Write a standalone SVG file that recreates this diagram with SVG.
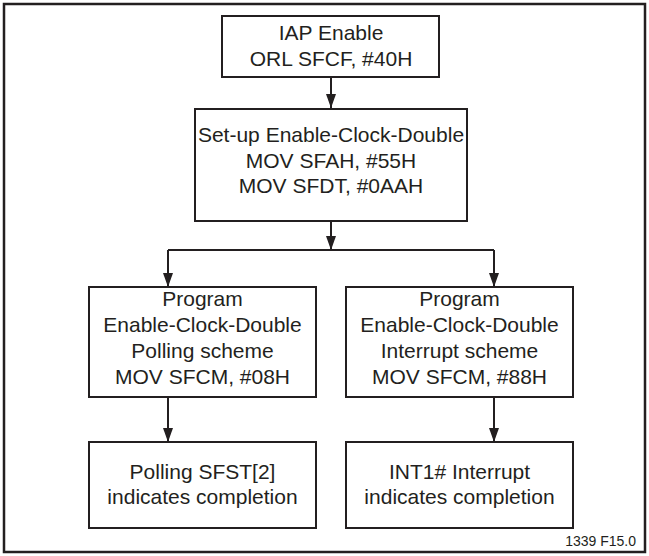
<svg xmlns="http://www.w3.org/2000/svg" width="649" height="556" viewBox="0 0 649 556">
<defs>
<marker id="ah" markerUnits="userSpaceOnUse" markerWidth="14" markerHeight="10" viewBox="0 0 14 10" refX="14" refY="5" orient="auto">
<path d="M0,0 L14,5 L0,10 Z" fill="#231f20"/>
</marker>
<style>
.box{fill:#fff;stroke:#231f20;stroke-width:2}
.t{font-family:"Liberation Sans",Arial,Helvetica,sans-serif;font-size:21px;fill:#231f20;text-anchor:middle}
.c{fill:none;stroke:#231f20;stroke-width:2}
.lab{font-family:"Liberation Sans",Arial,Helvetica,sans-serif;font-size:14px;fill:#231f20;text-anchor:end}
</style>
</defs>
<rect x="0" y="0" width="649" height="556" fill="#fff"/>
<rect x="4" y="4" width="641" height="548" fill="none" stroke="#231f20" stroke-width="2.5"/>
<g id="connectors">
<path class="c" d="M331,77 V108" marker-end="url(#ah)"/>
<path class="c" d="M331,221 V250" marker-end="url(#ah)"/>
<path class="c" d="M168,250 H494"/>
<path class="c" d="M168,250 V287" marker-end="url(#ah)"/>
<path class="c" d="M494,250 V287" marker-end="url(#ah)"/>
<path class="c" d="M168,397 V442" marker-end="url(#ah)"/>
<path class="c" d="M494,397 V442" marker-end="url(#ah)"/>
</g>
<g id="iap">
<rect class="box" x="222" y="16" width="217" height="61"/>
<text class="t" x="331" y="40">IAP Enable</text>
<text class="t" x="331" y="66">ORL SFCF, #40H</text>
</g>
<g id="setup">
<rect class="box" x="195" y="109" width="272" height="112"/>
<text class="t" x="331" y="142">Set-up Enable-Clock-Double</text>
<text class="t" x="331" y="168">MOV SFAH, #55H</text>
<text class="t" x="331" y="193">MOV SFDT, #0AAH</text>
</g>
<g id="poll">
<rect class="box" x="89" y="287" width="227" height="110"/>
<text class="t" x="202.5" y="306">Program</text>
<text class="t" x="202.5" y="332">Enable-Clock-Double</text>
<text class="t" x="202.5" y="358">Polling scheme</text>
<text class="t" x="202.5" y="384">MOV SFCM, #08H</text>
</g>
<g id="intr">
<rect class="box" x="346" y="287" width="227" height="110"/>
<text class="t" x="459.5" y="306">Program</text>
<text class="t" x="459.5" y="332">Enable-Clock-Double</text>
<text class="t" x="459.5" y="358">Interrupt scheme</text>
<text class="t" x="459.5" y="384">MOV SFCM, #88H</text>
</g>
<g id="pollDone">
<rect class="box" x="89" y="442" width="227" height="86"/>
<text class="t" x="202.5" y="479">Polling SFST[2]</text>
<text class="t" x="202.5" y="504">indicates completion</text>
</g>
<g id="intrDone">
<rect class="box" x="346" y="442" width="227" height="86"/>
<text class="t" x="459.5" y="479">INT1# Interrupt</text>
<text class="t" x="459.5" y="504">indicates completion</text>
</g>
<text class="lab" x="636" y="546">1339 F15.0</text>
</svg>
